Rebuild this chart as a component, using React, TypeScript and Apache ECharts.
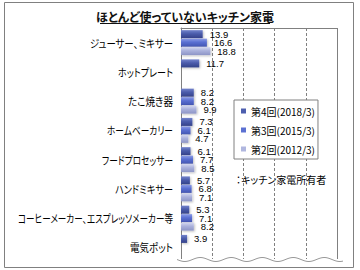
import React, { useEffect, useRef } from "react";
import * as echarts from "echarts";

const categories = [
  "ジューサー、ミキサー",
  "ホットプレート",
  "たこ焼き器",
  "ホームベーカリー",
  "フードプロセッサー",
  "ハンドミキサー",
  "コーヒーメーカー、エスプレッソメーカー等",
  "電気ポット",
];
const seriesNames = ["第4回(2018/3)", "第3回(2015/3)", "第2回(2012/3)"];
const survey4 = [13.9, 11.7, 8.2, 7.3, 6.1, 5.7, 5.3, 3.9];
const survey3 = [16.6, null, 8.2, 6.1, 7.7, 6.8, 7.1, null];
const survey2 = [18.8, null, 9.9, 4.7, 8.5, 7.1, 8.2, null];
const xTicks = { min: 0, max: 100, interval: 20 };

// rendered widths (px) of the proportional Japanese labels, styling only
const labelPixelWidths = [83, 55, 45, 66, 71, 58, 155, 43];

const JP = '"Noto Sans CJK JP", "Noto Sans", sans-serif';
const NUM = '"Liberation Sans Narrow", "Liberation Sans", sans-serif';

const palette = [
  { top: "#7383cc", mid: "#4b5cab", bottom: "#34428a", legend: "#4d5eae" },
  { top: "#8c9ce6", mid: "#5a6fd2", bottom: "#4255b2", legend: "#5c71d2" },
  { top: "#d4d8f0", mid: "#aab1dc", bottom: "#8d95c6", legend: "#b0b7df" },
];

function grad(p: { top: string; mid: string; bottom: string }) {
  return new echarts.graphic.LinearGradient(0, 0, 0, 1, [
    { offset: 0, color: p.top },
    { offset: 0.45, color: p.mid },
    { offset: 1, color: p.bottom },
  ]);
}

function wavePoints(x0: number, x1: number, y: number, amp: number, period: number) {
  const pts: number[][] = [];
  for (let x = x0; x <= x1; x += 1) {
    pts.push([x, y + amp * Math.sin(((x - x0) / period) * Math.PI * 2)]);
  }
  return pts;
}

export default function App() {
  const ref = useRef<HTMLDivElement>(null);
  useEffect(() => {
    if (!ref.current) return;
    const el = ref.current;
    const chart = echarts.init(el, undefined, { renderer: "svg" });
    const data = [survey4, survey3, survey2];
    const fitLabels = () => {
      el.querySelectorAll("text").forEach((t) => {
        const idx = categories.indexOf((t.textContent || "").trim());
        if (idx >= 0) {
          t.setAttribute("textLength", String(labelPixelWidths[idx]));
          t.setAttribute("lengthAdjust", "spacingAndGlyphs");
        }
      });
    };
    chart.on("finished", fitLabels);
    chart.setOption({
      animation: false,
      backgroundColor: "#ffffff",
      grid: {
        left: 181,
        right: 23,
        top: 28,
        bottom: 8,
        containLabel: false,
        outerBoundsMode: "none",
      },
      xAxis: {
        type: "value",
        min: xTicks.min,
        max: xTicks.max,
        interval: xTicks.interval,
        position: "top",
        axisLine: { show: true, lineStyle: { color: "#808080", width: 1 } },
        axisTick: { show: false },
        axisLabel: { show: false },
        splitLine: { show: true, lineStyle: { color: "#808080", type: [3, 2], width: 1 } },
      },
      yAxis: {
        type: "category",
        data: categories,
        inverse: true,
        axisLine: { show: true, lineStyle: { color: "#808080", width: 1 } },
        axisTick: { show: false },
        axisLabel: { color: "#000", fontSize: 11, fontFamily: JP, margin: 8 },
        splitLine: { show: false },
      },
      legend: {
        orient: "vertical",
        left: 234,
        top: 100,
        data: seriesNames.map((n, i) => ({ name: n, itemStyle: { color: palette[i].legend } })),
        icon: "rect",
        itemWidth: 5,
        itemHeight: 5,
        itemGap: 5,
        padding: [4, 3, 3, 7],
        borderColor: "#808080",
        borderWidth: 1,
        backgroundColor: "#fff",
        textStyle: { fontSize: 10, fontFamily: JP, color: "#000", lineHeight: 14 },
      },
      series: data.map((d, i) => ({
        name: seriesNames[i],
        type: "bar",
        data: d,
        barWidth: 8,
        barGap: "6%",
        barCategoryGap: "10%",
        itemStyle: {
          color: grad(palette[i]),
          shadowColor: "rgba(0,0,0,0.25)",
          shadowBlur: 2,
          shadowOffsetX: 1,
          shadowOffsetY: 1,
        },
        label: {
          show: true,
          position: "right",
          distance: 7,
          fontSize: 9.5,
          lineHeight: 8,
          fontFamily: NUM,
          color: "#000",
          formatter: (p: any) => (p.value == null ? "" : Number(p.value).toFixed(1)),
        },
      })),
      graphic: [
        {
          type: "rect",
          shape: { x: 4.5, y: 2.5, width: 349, height: 265 },
          style: { fill: "none", stroke: "#808080", lineWidth: 1 },
          silent: true,
        },
        {
          type: "text",
          x: 185,
          y: 16,
          style: {
            text: "ほとんど使っていないキッチン家電",
            font: `bold 12px ${JP}`,
            fill: "#111",
            align: "center",
            verticalAlign: "middle",
          },
        },
        {
          type: "line",
          shape: { x1: 100, y1: 23.5, x2: 270, y2: 23.5 },
          style: { stroke: "#111", lineWidth: 1 },
        },
        {
          type: "line",
          shape: { x1: 337.5, y1: 28, x2: 337.5, y2: 259 },
          style: { stroke: "#808080", lineWidth: 1 },
          z: 10,
        },
        {
          type: "rect",
          shape: { x: 176, y: 259, width: 170, height: 8 },
          style: { fill: "#fff" },
          z: 20,
        },
        {
          type: "polyline",
          shape: { points: wavePoints(177, 343, 259.5, 2, 31) },
          style: { stroke: "#999", lineWidth: 1, fill: "none" },
          z: 21,
        },
        {
          type: "text",
          x: 236,
          y: 179,
          style: {
            text: "：キッチン家電所有者",
            font: `10px ${JP}`,
            fill: "#000",
            align: "left",
            verticalAlign: "middle",
          },
        },
      ],
    });
    fitLabels();
    return () => chart.dispose();
  }, []);
  return (
    <>
      <style>{`body{margin:0;} #chart text{font-feature-settings:"palt" 1 !important;}`}</style>
      <div id="chart" ref={ref} style={{ width: 360, height: 270 }} />
    </>
  );
}
